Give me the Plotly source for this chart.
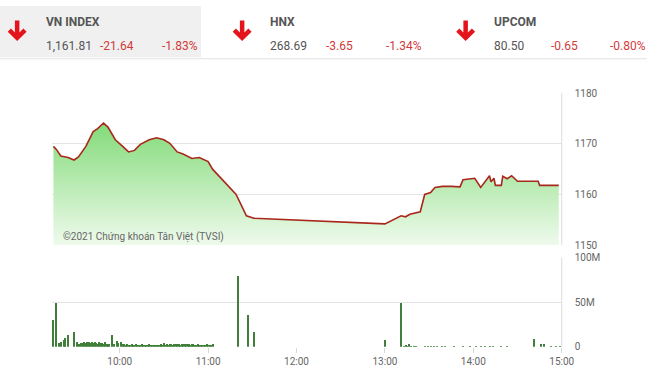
import plotly.graph_objects as go
import pandas as pd

DAY = "2021-01-01 "

# ---- main index line (VN-INDEX intraday) ----
price_times = ["09:15", "09:17", "09:20", "09:25", "09:29", "09:32", "09:37", "09:42", "09:45", "09:49",
               "09:52", "09:57", "10:02", "10:06", "10:10", "10:14", "10:20", "10:25", "10:30", "10:34",
               "10:39", "10:43", "10:49", "10:54", "11:00", "11:03", "11:19", "11:26", "11:31", "13:00",
               "13:11", "13:14", "13:17", "13:24", "13:27", "13:31", "13:34", "13:39", "13:45", "13:51",
               "13:53", "14:01", "14:05", "14:09", "14:11", "14:12", "14:14", "14:15", "14:19", "14:20",
               "14:23", "14:26", "14:30", "14:44", "14:45", "14:58"]
price_vals = [1169.5, 1168.9, 1167.6, 1167.3, 1166.8, 1167.4, 1169.5, 1172.4, 1173.0, 1174.1,
              1173.3, 1170.8, 1169.5, 1168.4, 1168.7, 1169.9, 1170.8, 1171.2, 1170.8, 1170.1,
              1168.4, 1168.0, 1167.1, 1167.3, 1166.5, 1165.0, 1160.0, 1155.8, 1155.3, 1154.2,
              1155.8, 1155.6, 1156.1, 1156.6, 1160.0, 1160.4, 1161.4, 1161.6, 1161.6, 1161.5,
              1162.9, 1163.2, 1161.4, 1162.8, 1163.7, 1162.5, 1163.2, 1161.8, 1161.8, 1163.6,
              1163.1, 1163.7, 1162.6, 1162.6, 1161.8, 1161.8]

# ---- volume bars (millions), per minute segments ----
vol_am_start = "09:15"
vol_am = [30, 0, 50, 0, 5, 6, 0, 8, 10, 0, 14, 0, 0, 0, 17, 0, 6, 4, 0, 5,
          5, 6, 5, 6, 6, 5, 6, 5, 6, 5, 4, 6, 5, 5, 4, 6, 3, 4, 3, 0,
          14, 3, 0, 7, 5, 0, 6, 3, 3, 2, 3, 2, 2, 3, 2, 2, 3, 2, 2, 2,
          3, 2, 2, 2, 2, 3, 2, 2, 2, 2, 2, 2, 2, 3, 2, 5, 2, 3, 2, 3,
          3, 2, 3, 3, 3, 3, 2, 3, 3, 3, 3, 3, 3, 2, 3, 3, 2, 2, 3, 2,
          2, 2, 2, 2, 3, 2, 2, 2, 3]
vol_mid_times = ["11:20", "11:27", "11:31", "13:00", "13:11"]
vol_mid = [80, 36, 17, 8, 50]
vol_pm_times = ["13:13", "13:14", "13:15", "13:16", "13:18", "13:20", "13:21", "13:27", "13:29", "13:31",
                "13:33", "13:35", "13:39", "13:41", "13:47", "13:53", "13:58", "14:02", "14:05", "14:08",
                "14:11", "14:13", "14:19", "14:23", "14:41", "14:46", "14:48", "14:53", "14:56", "14:59"]
vol_pm = [1.5, 2, 1.5, 3, 1, 1.5, 1, 1.5, 1.5, 1.5,
          1.5, 1, 1, 1, 1, 1, 1, 1, 1, 1,
          1, 1, 1, 1, 9, 3, 4, 1, 1, 1]

main_ticks = [1150, 1160, 1170, 1180]
vol_tickvals = [0, 50, 100]
vol_ticktext = ["0", "50M", "100M"]
time_ticks = ["10:00", "11:00", "12:00", "13:00", "14:00", "15:00"]

# header data
idx_names = ["VN INDEX", "HNX", "UPCOM"]
idx_values = ["1,161.81", "268.69", "80.50"]
idx_changes = ["-21.64", "-3.65", "-0.65"]
idx_pcts = ["-1.83%", "-1.34%", "-0.80%"]

W, H = 660, 378
def px(x): return x / W
def py(y): return 1 - y / H

t_price = pd.to_datetime([DAY + t for t in price_times])
t_am = pd.date_range(DAY + vol_am_start, periods=len(vol_am), freq="1min")
t_vol = list(t_am) + list(pd.to_datetime([DAY + t for t in vol_mid_times])) + \
        list(pd.to_datetime([DAY + t for t in vol_pm_times]))
v_vol = list(vol_am) + list(vol_mid) + list(vol_pm)

fig = go.Figure()
fig.add_trace(go.Scatter(x=t_price, y=[main_ticks[0]] * len(t_price), mode="lines",
                         line=dict(width=0, color="rgba(0,0,0,0)"), hoverinfo="skip",
                         showlegend=False, xaxis="x", yaxis="y"))
fig.add_trace(go.Scatter(x=t_price, y=price_vals, mode="lines", fill="tonexty",
                         fillgradient=dict(type="vertical", start=1150, stop=1175,
                                           colorscale=[[0, "rgb(244,252,242)"], [1, "rgb(128,218,118)"]]),
                         line=dict(color="#a8281c", width=1.6), showlegend=False,
                         xaxis="x", yaxis="y"))
fig.add_trace(go.Bar(x=t_vol, y=v_vol, marker=dict(color="#3f7f3a", line=dict(width=0)),
                     width=42000, showlegend=False, xaxis="x2", yaxis="y2"))

xrange = [DAY + "09:14", DAY + "15:00"]
x_dom = [px(53), px(573)]
fig.update_layout(
    width=W, height=H, margin=dict(l=0, r=0, t=0, b=0),
    paper_bgcolor="white", plot_bgcolor="white",
    font=dict(family="Roboto", color="#666"),
    bargap=0,
    xaxis=dict(domain=x_dom, type="date", range=xrange, showgrid=False, showticklabels=False,
               zeroline=False, showline=False, anchor="y"),
    yaxis=dict(domain=[py(247), py(90)], range=[1150, 1180], side="right", tickvals=main_ticks,
               gridcolor="#e4e4e4", gridwidth=1, zeroline=False, showline=False,
               tickfont=dict(size=10, color="#666"), ticklabelstandoff=12, anchor="x"),
    xaxis2=dict(domain=x_dom, type="date", range=xrange, showgrid=False,
                tickvals=[DAY + t for t in time_ticks], ticktext=time_ticks,
                ticks="outside", ticklen=5, tickcolor="#d8d8d8", zeroline=False, showline=False,
                tickfont=dict(size=10, color="#666"), anchor="y2"),
    yaxis2=dict(domain=[py(352), py(260)], range=[0, 100], side="right", tickvals=vol_tickvals,
                ticktext=vol_ticktext, gridcolor="#e4e4e4", zeroline=False, showline=False,
                tickfont=dict(size=10, color="#666"), ticklabelstandoff=12, anchor="x2"),
)

shapes = []
# header background for the first cell and separator line
shapes.append(dict(type="rect", xref="paper", yref="paper", x0=0, x1=px(205), y0=py(53), y1=1,
                   fillcolor="#f0f0f0", line=dict(width=0), layer="below"))
shapes.append(dict(type="line", xref="paper", yref="paper", x0=0, x1=1, y0=py(54.5), y1=py(54.5),
                   line=dict(color="#e2e2e2", width=1)))
# right borders of plot panels
for (ya, yb) in [(90, 247), (260, 352)]:
    shapes.append(dict(type="line", xref="paper", yref="paper", x0=px(573), x1=px(573),
                       y0=py(ya), y1=py(yb), line=dict(color="#dcdcdc", width=1)))
# down arrows
for cx in [17.5, 247, 475]:
    path = (f"M {px(cx)},{py(15)} L {px(cx)},{py(33)} "
            f"M {px(cx-8)},{py(25)} L {px(cx)},{py(33)} L {px(cx+8)},{py(25)}")
    shapes.append(dict(type="path", xref="paper", yref="paper", path=path,
                       line=dict(color="#e3141b", width=4.5)))
fig.update_layout(shapes=shapes)

ann = []
name_x = [45, 273, 502]
chg_x = [100, 330, 560]
pct_x = [163, 392, 620]
for i in range(3):
    ann.append(dict(x=px(name_x[i]), y=py(17), xref="paper", yref="paper", xanchor="left", yanchor="middle",
                    text=f"<b>{idx_names[i]}</b>", showarrow=False,
                    font=dict(family="Roboto", size=12, color="#555")))
    ann.append(dict(x=px(name_x[i]), y=py(41), xref="paper", yref="paper", xanchor="left", yanchor="middle",
                    text=idx_values[i], showarrow=False, font=dict(family="Roboto", size=12, color="#555")))
    ann.append(dict(x=px(chg_x[i]), y=py(41), xref="paper", yref="paper", xanchor="left", yanchor="middle",
                    text=idx_changes[i], showarrow=False, font=dict(family="Roboto", size=12, color="#d23a3a")))
    ann.append(dict(x=px(pct_x[i]), y=py(41), xref="paper", yref="paper", xanchor="left", yanchor="middle",
                    text=idx_pcts[i], showarrow=False, font=dict(family="Roboto", size=12, color="#d23a3a")))
ann.append(dict(x=px(62), y=py(239), xref="paper", yref="paper", xanchor="left", yanchor="middle",
                text="©2021 Chứng khoán Tân Việt (TVSI)", showarrow=False,
                font=dict(family="Roboto", size=10, color="#666")))
fig.update_layout(annotations=ann)

fig.write_html("out.html")
with open("out.html", "r", encoding="utf-8") as f:
    html = f.read()
html = html.replace("<head>", "<head><style>html,body{margin:0;padding:0;overflow:hidden;}</style>", 1)
with open("out.html", "w", encoding="utf-8") as f:
    f.write(html)
